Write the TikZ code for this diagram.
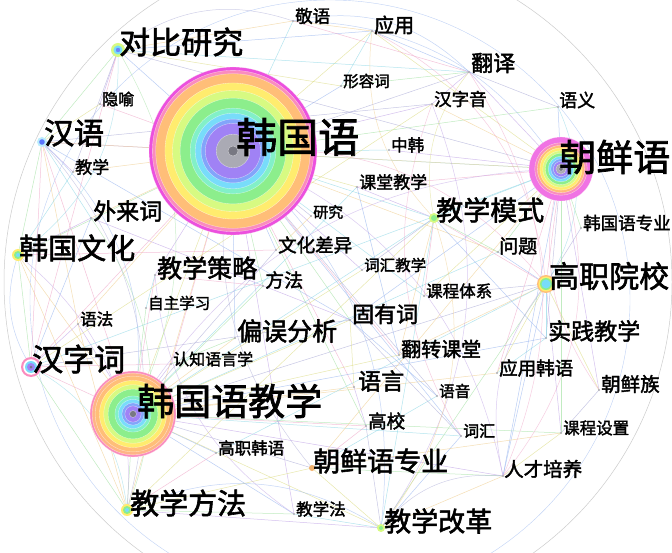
\documentclass[tikz,border=0pt]{standalone}
\usepackage{fontspec}
\newfontfamily\cjk[FakeBold=2]{Noto Sans CJK SC}
\definecolor{rm}{RGB}{236,80,222}
\definecolor{rp}{RGB}{250,140,190}
\definecolor{ro}{RGB}{255,190,120}
\definecolor{ry}{RGB}{255,236,110}
\definecolor{ryg}{RGB}{215,250,130}
\definecolor{rg}{RGB}{140,238,140}
\definecolor{rgc}{RGB}{130,240,200}
\definecolor{rc}{RGB}{120,220,250}
\definecolor{rlb}{RGB}{130,165,250}
\definecolor{rv}{RGB}{160,130,245}
\definecolor{rgr}{RGB}{170,170,180}
\definecolor{rdg}{RGB}{120,120,130}
\definecolor{ec1}{RGB}{150,180,240}
\definecolor{ec2}{RGB}{190,160,230}
\definecolor{ec3}{RGB}{160,225,160}
\definecolor{ec4}{RGB}{240,165,200}
\definecolor{ec5}{RGB}{240,205,140}
\definecolor{ec6}{RGB}{140,215,230}
\definecolor{ec7}{RGB}{220,220,130}
\definecolor{ec8}{RGB}{170,170,215}
\newcommand\rainbowdisc[4]{% x, y, R, ring list
  \foreach \f/\col in {#4}{%
    \fill[\col] (#1,#2) circle[radius={\f*#3 pt}];
    \draw[white,line width=0.35pt,opacity=0.6] (#1,#2) circle[radius={\f*#3 pt}];}}
\begin{document}
\begin{tikzpicture}[x=1pt,y=-1pt,
  edge/.style={line width=0.5pt,draw opacity=0.65},
  arc/.style={line width=0.5pt,draw opacity=0.55},
  lbl/.style={anchor=west,inner sep=0pt,text=black},
  dotn/.style={circle,inner sep=0pt,minimum size=2.4pt,fill=rdg!60}]
\useasboundingbox (0,0) rectangle (672,553);
\clip (0,0) rectangle (672,553);
\fill[white] (0,0) rectangle (672,553);
% keyword list: id / dot x / dot y / text x / text y / size / text
\def\kwlist{hgy/232/152/236/137/41/韩国语,
hgyjx/133/414/137/401/37/韩国语教学,
cxy/561/169/559/157/37/朝鲜语,
dbyj/118/50/119/42/31/对比研究,
hy/42/142/44/133/30/汉语,
hgwh/18/255/19/248/29/韩国文化,
hzc/31/367/32/359/31/汉字词,
jxff/127/510/130/503/29/教学方法,
gzyx/546/284/549/276/30/高职院校,
jxms/434/218/436/210/27/教学模式,
jxgg/381/528/384/521/27/教学改革,
cxyzy/312/468/313/461/27/朝鲜语专业,
pwfx/235/338/237/331/25/偏误分析,
jxcl/155/275/157/268/25/教学策略,
gyc/350/320/352/314/22/固有词,
yy/354/387/358/381/23/语言,
sjjx/546/338/548/331/23/实践教学,
wlc/91/218/93/211/23/外来词,
jy/293/21/295/16/17.5/敬语,
yyong/372/31/374/25/20/应用,
fy/469/72/471/63/22/翻译,
xrc/341/86/343/81/15.5/形容词,
hzy/432/104/434/99/17.5/汉字音,
yyi/558/107/559/100/18/语义,
yin/100/104/102/99/16/隐喻,
jx/73/172/75/167/17/教学,
zh/389/150/391/145/16.5/中韩,
ktjx/357/187/359/182/17/课堂教学,
yj/311/216/313/212/15/研究,
hgyzy/581/228/583/223/17.5/韩国语专业,
whcy/276/250/278/245/18.5/文化差异,
wt/498/252/499/246/19/问题,
chjx/362/270/364/265/15.5/词汇教学,
ff/263/286/265/280/19/方法,
kctx/424/296/426/291/16.5/课程体系,
zzxx/146/308/148/303/15.5/自主学习,
yf/78/324/80/319/16.5/语法,
rzyyx/171/364/173/359/16/认知语言学,
fzkt/399/355/401/349/20/翻转课堂,
yyhy/497/373/499/368/18.5/应用韩语,
yyin/437/396/439/391/15.5/语音,
cxz/599/390/601/384/19.5/朝鲜族,
gx/366/426/368/421/18.5/高校,
ch/461/436/463/431/16/词汇,
kcsz/561/433/563/428/16.5/课程设置,
gzhy/216/453/218/448/16.5/高职韩语,
rcpy/503/476/504/469/19.5/人才培养,
jxf/294/514/296/509/16.5/教学法}
% coordinates
\foreach \id/\dx/\dy/\tx/\ty/\s/\t in \kwlist {\coordinate (\id) at (\dx,\dy);}
% faint outer frame arcs
\draw[gray!40,line width=0.5pt] (338,282) circle[radius=334pt];
\draw[ec1!60,line width=0.4pt] (330,300) circle[radius=300pt];
% straight connectors
\foreach \a/\b/\c in {hgy/dbyj/ec1,hgy/hy/ec2,hgy/hgwh/ec3,hgy/hzc/ec4,hgy/jxff/ec5,hgy/jxms/ec6,hgy/pwfx/ec1,hgy/jxcl/ec2,hgy/gyc/ec3,hgy/yy/ec4,hgy/wlc/ec5,hgy/jy/ec6,hgy/yyong/ec7,hgy/fy/ec8,hgy/xrc/ec1,hgy/hzy/ec2,hgy/yyi/ec3,hgy/yin/ec4,hgy/jx/ec5,hgy/zh/ec6,hgy/ktjx/ec7,hgy/yj/ec8,hgy/whcy/ec1,hgy/chjx/ec2,hgy/ff/ec3,hgy/rzyyx/ec4,hgy/yf/ec5,hgy/cxy/ec6,hgy/hgyjx/ec7,hgy/yyin/ec8,hgy/ch/ec1,hgy/jxf/ec2,hgy/gx/ec3,hgy/fzkt/ec4,hgy/wt/ec5,hgy/kctx/ec6,
hgyjx/jxff/ec3,hgyjx/hzc/ec4,hgyjx/hgwh/ec5,hgyjx/jxms/ec6,hgyjx/jxgg/ec7,hgyjx/cxyzy/ec8,hgyjx/gzhy/ec1,hgyjx/rzyyx/ec2,hgyjx/zzxx/ec3,hgyjx/jxcl/ec4,hgyjx/pwfx/ec5,hgyjx/ktjx/ec6,hgyjx/fzkt/ec7,hgyjx/gzyx/ec8,hgyjx/sjjx/ec1,hgyjx/rcpy/ec2,hgyjx/kcsz/ec3,hgyjx/gx/ec4,hgyjx/yy/ec5,hgyjx/wt/ec6,hgyjx/chjx/ec7,hgyjx/whcy/ec8,hgyjx/jxf/ec1,hgyjx/yf/ec2,hgyjx/ff/ec3,hgyjx/hy/ec4,hgyjx/yyhy/ec5,hgyjx/ch/ec6,hgyjx/gyc/ec7,
cxy/yyi/ec1,cxy/fy/ec2,cxy/hgyzy/ec3,cxy/gzyx/ec4,cxy/cxyzy/ec5,cxy/jxms/ec6,cxy/kctx/ec7,cxy/sjjx/ec8,cxy/rcpy/ec1,cxy/cxz/ec2,cxy/kcsz/ec3,cxy/yyhy/ec4,cxy/hzy/ec5,cxy/hzc/ec6,cxy/yyong/ec7,cxy/dbyj/ec8,cxy/gyc/ec1,cxy/zh/ec2,cxy/wt/ec3,cxy/ktjx/ec4,cxy/hy/ec5,
gzyx/sjjx/ec6,gzyx/yyhy/ec7,gzyx/kctx/ec8,gzyx/rcpy/ec1,gzyx/kcsz/ec2,gzyx/jxgg/ec3,gzyx/jxms/ec4,gzyx/fzkt/ec5,gzyx/gzhy/ec6,gzyx/cxz/ec7,gzyx/hgyzy/ec8,gzyx/wt/ec1,
jxms/ktjx/ec2,jxms/wt/ec3,jxms/kctx/ec4,jxms/fzkt/ec5,jxms/jxgg/ec6,jxms/jxff/ec7,jxms/chjx/ec8,jxms/sjjx/ec1,
dbyj/yin/ec2,dbyj/hy/ec3,dbyj/hzc/ec4,dbyj/jy/ec5,dbyj/fy/ec6,dbyj/xrc/ec7,dbyj/jx/ec8,dbyj/yyong/ec1,
hy/jx/ec2,hy/hgwh/ec3,hy/hzc/ec4,hy/yf/ec5,hy/wlc/ec6,hy/yin/ec7,hy/hzy/ec8,hy/gyc/ec1,
hgwh/wlc/ec2,hgwh/hzc/ec3,hgwh/whcy/ec4,hgwh/jxff/ec5,hgwh/jx/ec6,
hzc/hzy/ec7,hzc/gyc/ec8,hzc/wlc/ec1,hzc/yf/ec2,hzc/jxff/ec3,hzc/rzyyx/ec4,
jxgg/rcpy/ec5,jxgg/jxf/ec6,jxgg/cxyzy/ec7,jxgg/gx/ec8,jxgg/ch/ec1,jxgg/jxff/ec2,
cxyzy/rcpy/ec3,cxyzy/gx/ec4,cxyzy/kcsz/ec5,cxyzy/yyin/ec6,cxyzy/jxff/ec7,
fy/yyi/ec8,fy/yyong/ec1,fy/hzy/ec2,fy/xrc/ec3,fy/jy/ec4,yyong/jy/ec5,yyong/xrc/ec6,
gyc/yy/ec7,gyc/ch/ec8,gyc/yyin/ec1,gyc/wlc/ec2,jxff/jxf/ec3,jxff/gzhy/ec4,jxff/yf/ec5,
sjjx/yyhy/ec6,rcpy/kcsz/ec7,kcsz/cxz/ec8,fzkt/ktjx/ec1,yy/gx/ec2,pwfx/rzyyx/ec3,ff/jxcl/ec4,whcy/yj/ec5,zzxx/jxcl/ec6}
  {\draw[edge,\c] (\a) -- (\b);}
% curved connectors
\foreach \a/\b/\c in {hgy/jxgg/ec1,hgy/rcpy/ec2,hgy/gzyx/ec4,dbyj/hgyjx/ec3,hy/jxff/ec8,hgwh/jxff/ec2,jy/cxy/ec1,yyong/gzyx/ec4,fy/rcpy/ec4,hzy/jxgg/ec2,yyi/gzyx/ec6,dbyj/jy/ec8,jy/fy/ec1,hzc/jxff/ec6,jxff/jxgg/ec1,jxgg/rcpy/ec8,cxy/rcpy/ec4,jxms/jxgg/ec5,wlc/jxff/ec3,hgyjx/cxy/ec2,hy/hgyjx/ec1,dbyj/hgwh/ec6}
  {\draw[arc,\c] (\a) to[bend left=28] (\b);}
\foreach \a/\b/\c in {hgy/cxyzy/ec8,yyong/jxms/ec5,fy/jxms/ec7,hzy/ch/ec4,cxy/cxz/ec4,gzyx/rcpy/ec2,hgwh/hzc/ec1,jxcl/jxf/ec2}
  {\draw[arc,\c] (\a) to[bend right=25] (\b);}
% node discs
\rainbowdisc{233}{151}{84}{1/rm,.96/rp,.92/ro,.81/ry,.72/ryg,.63/rg,.51/rgc,.45/rc,.38/rlb,.33/rv,.20/rgr,.06/rdg}
\rainbowdisc{133}{414}{43}{1/rp,.95/ro!80!rp,.88/ro,.78/ry,.68/ryg,.58/rg,.42/rgc,.34/rc,.26/rlb,.19/rv,.08/rdg}
\rainbowdisc{561}{169}{32}{1/rm!80,.82/rp,.74/ro,.66/ry,.57/ryg,.49/rg,.40/rc,.32/rlb,.24/rv,.16/rgr,.07/rdg}
\fill[ryg] (dbyj) circle[radius=7pt]; \fill[rc] (dbyj) circle[radius=4.5pt]; \fill[rlb!80!blue] (dbyj) circle[radius=2.2pt];
\fill[rc!50] (hy) circle[radius=5pt]; \fill[rlb!70!blue] (hy) circle[radius=2.8pt];
\fill[ry] (hgwh) circle[radius=6pt]; \fill[rg] (hgwh) circle[radius=4pt]; \fill[rc] (hgwh) circle[radius=2pt];
\fill[rp] (hzc) circle[radius=10pt]; \fill[white] (hzc) circle[radius=7.8pt]; \fill[rc] (hzc) circle[radius=6pt]; \fill[rv] (hzc) circle[radius=4pt]; \fill[rdg] (hzc) circle[radius=1.5pt];
\fill[ry] (jxff) circle[radius=6pt]; \fill[rg] (jxff) circle[radius=4pt]; \fill[rc] (jxff) circle[radius=2pt];
\fill[ro] (gzyx) circle[radius=9pt]; \fill[ry] (gzyx) circle[radius=7.5pt]; \fill[rg] (gzyx) circle[radius=6pt]; \fill[rc] (gzyx) circle[radius=4.5pt];
\fill[ryg] (jxms) circle[radius=5pt]; \fill[rg] (jxms) circle[radius=3pt];
\fill[ryg] (jxgg) circle[radius=4pt]; \fill[rg] (jxgg) circle[radius=2pt];
\fill[ro!80!brown] (cxyzy) circle[radius=3pt];
\foreach \id in {pwfx,jxcl,gyc,yy,sjjx,wlc,jy,yyong,fy,xrc,hzy,yyi,yin,jx,zh,ktjx,yj,hgyzy,whcy,wt,chjx,ff,kctx,zzxx,yf,rzyyx,fzkt,yyhy,yyin,cxz,gx,ch,kcsz,gzhy,rcpy,jxf}
  {\node[dotn] at (\id) {};}
% labels
\foreach \id/\dx/\dy/\tx/\ty/\s/\t in \kwlist
  {\node[lbl,font=\cjk\fontsize{\s}{\s}\selectfont] (t\id) at (\tx,\ty) {\t};}
\end{tikzpicture}
\end{document}
